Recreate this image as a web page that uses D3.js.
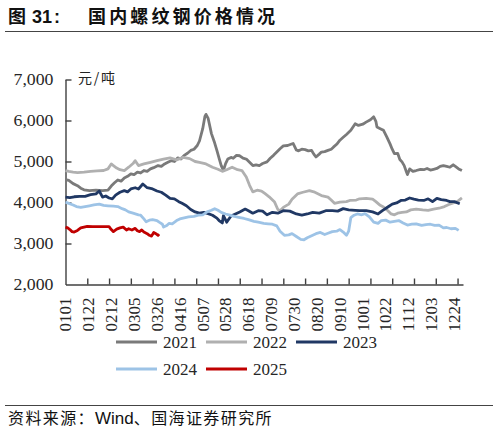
<!DOCTYPE html>
<html><head><meta charset="utf-8">
<script src="https://cdn.jsdelivr.net/npm/d3@7"></script>
<style>
html,body{margin:0;padding:0;background:#fff;}
svg{display:block;}
</style></head>
<body>
<svg id="c" width="498" height="434"></svg>
<script>
// ---------- data ----------
const xLabels = ['0101','0122','0212','0305','0326','0416','0507','0528','0618','0709','0730','0820','0910','1001','1022','1112','1203','1224'];
const yTicks = [2000,3000,4000,5000,6000,7000];
const seriesNames = ['2021','2022','2023','2024','2025'];

// [day of year, price yuan/ton]
const s2021 = [[0,4560],[3,4540],[7,4460],[11,4410],[14,4350],[17,4310],[22,4290],[28,4300],[34,4290],[39,4300],[42,4400],[45,4480],[48,4550],[51,4520],[54,4600],[57,4640],[60,4700],[63,4680],[66,4740],[69,4720],[72,4780],[75,4760],[78,4820],[81,4850],[85,4900],[88,4880],[91,4940],[94,4980],[97,5020],[100,5000],[103,5090],[106,5060],[109,5150],[112,5200],[115,5270],[118,5300],[121,5390],[123,5500],[126,5800],[128,6100],[129,6150],[131,6050],[134,5680],[137,5450],[139,5270],[141,5080],[143,4900],[145,4780],[147,4950],[149,5060],[152,5100],[154,5080],[157,5150],[160,5140],[163,5080],[166,5060],[169,4980],[172,4900],[175,4920],[178,4900],[181,4950],[185,4990],[188,5080],[191,5150],[194,5230],[197,5310],[200,5380],[204,5390],[207,5420],[209,5440],[212,5280],[214,5260],[217,5300],[220,5290],[223,5260],[226,5270],[228,5180],[230,5110],[233,5180],[235,5230],[238,5240],[241,5270],[244,5300],[246,5350],[249,5420],[252,5520],[255,5590],[258,5660],[262,5760],[266,5920],[269,5880],[273,5910],[276,5960],[280,6020],[283,6090],[285,5980],[286,5840],[289,5800],[292,5760],[295,5600],[298,5430],[300,5300],[302,5190],[305,5200],[307,5050],[309,4990],[311,4900],[313,4750],[314,4680],[316,4820],[319,4760],[322,4780],[326,4810],[329,4800],[332,4830],[335,4790],[338,4810],[341,4830],[344,4880],[347,4900],[350,4880],[353,4860],[356,4920],[358,4880],[361,4820],[364,4780]];
const s2022 = [[0,4780],[3,4760],[7,4740],[11,4730],[17,4740],[23,4760],[29,4770],[35,4780],[39,4820],[42,4940],[44,4900],[47,4840],[50,4800],[54,4780],[58,4860],[62,4950],[64,5020],[67,4900],[72,4940],[78,4980],[84,5020],[90,5060],[96,5090],[102,5040],[108,5100],[114,5070],[119,5000],[123,4980],[129,4940],[135,4860],[140,4810],[144,4760],[148,4800],[153,4860],[158,4800],[162,4780],[166,4620],[169,4420],[172,4260],[176,4300],[180,4280],[183,4220],[187,4140],[192,4010],[195,3830],[197,3800],[200,3880],[205,3960],[208,4080],[213,4210],[218,4250],[224,4290],[228,4260],[235,4170],[241,4130],[244,4060],[247,3980],[252,4010],[258,4020],[261,4050],[267,4060],[270,4090],[276,4100],[282,4080],[285,4020],[289,3930],[292,3890],[296,3800],[299,3720],[302,3700],[305,3740],[309,3760],[313,3770],[317,3820],[322,3840],[328,3820],[333,3810],[338,3840],[343,3860],[348,3900],[352,3950],[356,3990],[360,4030],[364,4110]];
const s2023 = [[0,4130],[4,4120],[8,4140],[13,4150],[18,4150],[23,4190],[28,4210],[31,4280],[34,4130],[37,4160],[40,4110],[43,4090],[46,4180],[50,4250],[54,4290],[57,4260],[60,4330],[64,4360],[67,4330],[71,4450],[75,4360],[80,4330],[84,4280],[88,4250],[92,4180],[96,4100],[100,4090],[104,4020],[107,3980],[111,3920],[115,3830],[119,3770],[123,3740],[127,3760],[131,3730],[135,3690],[139,3620],[141,3560],[144,3500],[145,3680],[148,3520],[152,3670],[156,3720],[160,3770],[165,3840],[168,3800],[172,3740],[177,3800],[181,3790],[185,3700],[190,3760],[195,3740],[200,3800],[206,3790],[212,3720],[217,3690],[222,3720],[227,3760],[233,3740],[239,3800],[245,3800],[250,3790],[255,3850],[260,3820],[266,3810],[270,3800],[276,3800],[282,3770],[287,3720],[291,3800],[296,3890],[300,3960],[304,3990],[308,4050],[312,4060],[316,4110],[320,4080],[324,4060],[329,4050],[333,4090],[337,4020],[341,4100],[345,4070],[350,4050],[353,4020],[357,4020],[362,3970]];
const s2024 = [[0,4010],[3,3980],[7,3940],[10,3900],[14,3880],[18,3900],[22,3920],[26,3940],[31,3960],[35,3930],[39,3920],[44,3910],[48,3900],[52,3850],[55,3820],[58,3770],[62,3740],[67,3700],[69,3690],[72,3600],[74,3530],[77,3570],[80,3580],[84,3560],[86,3520],[89,3470],[90,3400],[93,3440],[95,3490],[98,3480],[102,3560],[105,3600],[108,3620],[113,3650],[118,3660],[122,3690],[126,3700],[130,3770],[134,3810],[137,3850],[140,3810],[143,3760],[147,3720],[151,3690],[155,3660],[159,3640],[164,3610],[168,3580],[173,3540],[177,3520],[182,3490],[186,3480],[190,3470],[194,3430],[197,3300],[201,3200],[205,3210],[208,3240],[212,3170],[216,3100],[219,3090],[222,3140],[226,3190],[230,3240],[234,3270],[238,3220],[241,3250],[245,3290],[249,3300],[252,3340],[255,3280],[258,3200],[260,3300],[262,3630],[265,3690],[268,3720],[272,3700],[275,3730],[279,3650],[283,3520],[287,3490],[290,3560],[294,3570],[298,3520],[302,3540],[306,3560],[310,3500],[314,3450],[318,3470],[322,3480],[327,3440],[331,3460],[335,3470],[339,3440],[343,3450],[347,3380],[350,3390],[354,3360],[358,3370],[361,3320]];
const s2025 = [[0,3400],[2,3380],[4,3340],[6,3290],[8,3280],[11,3320],[14,3380],[17,3400],[20,3420],[25,3410],[30,3410],[35,3410],[40,3410],[42,3340],[44,3290],[47,3350],[50,3380],[53,3400],[56,3330],[58,3360],[61,3330],[64,3370],[66,3310],[68,3290],[70,3330],[72,3280],[75,3240],[77,3200],[79,3180],[81,3270],[83,3240],[85,3200],[86,3230]];

const colors = ['#7a7a7a','#b0b0b0','#203864','#9dc3e6','#c00000'];
const allSeries = [s2021,s2022,s2023,s2024,s2025];

// ---------- drawing ----------
const svg = d3.select('#c');
const x = d3.scaleLinear().domain([0,365]).range([65.5,463]);
const y = d3.scaleLinear().domain([2000,7000]).range([284.5,79.5]);
const serif = "'Liberation Serif','Times New Roman',serif";
const cjk = "'Noto Sans CJK SC','Noto Sans',sans-serif";
const sans = "'Liberation Sans',Arial,sans-serif";

// title
svg.append('text').attr('x',8).attr('y',23).attr('font-family',cjk).attr('font-weight','bold')
  .attr('font-size',18).attr('fill','#111').text('图');
svg.append('text').attr('x',32).attr('y',23).attr('font-family',sans).attr('font-weight','bold')
  .attr('font-size',18).attr('fill','#111').text('31');
svg.append('text').attr('x',54).attr('y',23).attr('font-family',sans).attr('font-weight','bold')
  .attr('font-size',18).attr('fill','#111').text(':');
svg.append('text').attr('x',88).attr('y',23).attr('font-family',cjk).attr('font-weight','bold')
  .attr('font-size',18).attr('fill','#111').attr('textLength',187).attr('lengthAdjust','spacing').text('国内螺纹钢价格情况');
svg.append('line').attr('x1',5).attr('x2',493).attr('y1',31.5).attr('y2',31.5).attr('stroke','#444').attr('stroke-width',1.2);

// unit
svg.append('text').attr('x',78).attr('y',83).attr('font-family',cjk).attr('font-size',14)
  .attr('fill','#222').attr('textLength',37).attr('lengthAdjust','spacing').text('元/吨');

// y axis
const yAxis = d3.axisLeft(y).tickValues(yTicks).tickFormat(d3.format(',')).tickSize(-6).tickSizeOuter(0).tickPadding(12);
const gy = svg.append('g').attr('transform','translate(65.5,0)').call(yAxis);
gy.select('.domain').attr('stroke','#404040').attr('stroke-width',1.4);
gy.selectAll('.tick line').attr('stroke','#404040').attr('stroke-width',1.4);
gy.selectAll('.tick').filter(d=>d===2000).select('line').remove();
gy.selectAll('.tick text').attr('font-family',serif).attr('font-size',16).attr('fill','#262626')
  .attr('textLength',40).attr('lengthAdjust','spacingAndGlyphs').attr('dy','0.3em');

// x axis ticks (every 20 days)
const tickDays = d3.range(20,365,20);
const xAxis = d3.axisBottom(x).tickValues(tickDays).tickFormat('').tickSize(-6).tickSizeOuter(0);
const gx = svg.append('g').attr('transform','translate(0,284.5)').call(xAxis);
gx.select('.domain').attr('stroke','#404040').attr('stroke-width',1.4);
gx.selectAll('.tick line').attr('stroke','#404040').attr('stroke-width',1.4);

// x labels (every 21 days)
const labelDays = xLabels.map((l,i)=>i*21);
const xLab = d3.axisBottom(x).tickValues(labelDays).tickFormat((d,i)=>xLabels[i]).tickSize(0);
const gl = svg.append('g').attr('transform','translate(0,284.5)').call(xLab);
gl.select('.domain').remove();
gl.selectAll('.tick text').attr('font-family',serif).attr('font-size',16).attr('fill','#262626')
  .attr('transform','rotate(-90)').attr('text-anchor','end').attr('x',-13).attr('y',0).attr('dy','0.33em')
  .attr('textLength',34).attr('lengthAdjust','spacingAndGlyphs');

// lines
const line = d3.line().x(d=>x(d[0])).y(d=>y(d[1]));
allSeries.forEach((s,i)=>{
  svg.append('path').datum(s).attr('d',line).attr('fill','none')
    .attr('stroke',colors[i]).attr('stroke-width',2.8).attr('stroke-linejoin','round');
});

// legend
const legPos = [[116,342],[206,342],[296,342],[116,369],[206,369]];
seriesNames.forEach((n,i)=>{
  const [lx,ly] = legPos[i];
  svg.append('line').attr('x1',lx).attr('x2',lx+41).attr('y1',ly).attr('y2',ly)
    .attr('stroke',colors[i]).attr('stroke-width',2.8);
  svg.append('text').attr('x',lx+47).attr('y',ly).attr('dy','0.35em').attr('font-family',serif)
    .attr('font-size',16).attr('fill','#262626').attr('textLength',34).attr('lengthAdjust','spacingAndGlyphs').text(n);
});

// source
svg.append('line').attr('x1',5).attr('x2',493).attr('y1',405.5).attr('y2',405.5).attr('stroke','#444').attr('stroke-width',1.2);
const src = svg.append('text').attr('x',8).attr('y',424).attr('font-size',16).attr('fill','#111');
src.append('tspan').attr('font-family',cjk).attr('letter-spacing',1.4).text('资料来源：');
src.append('tspan').attr('font-family',sans).attr('font-size',17).text('Wind');
src.append('tspan').attr('font-family',cjk).attr('letter-spacing',1.4).text('、国海证券研究所');
</script>
</body></html>
